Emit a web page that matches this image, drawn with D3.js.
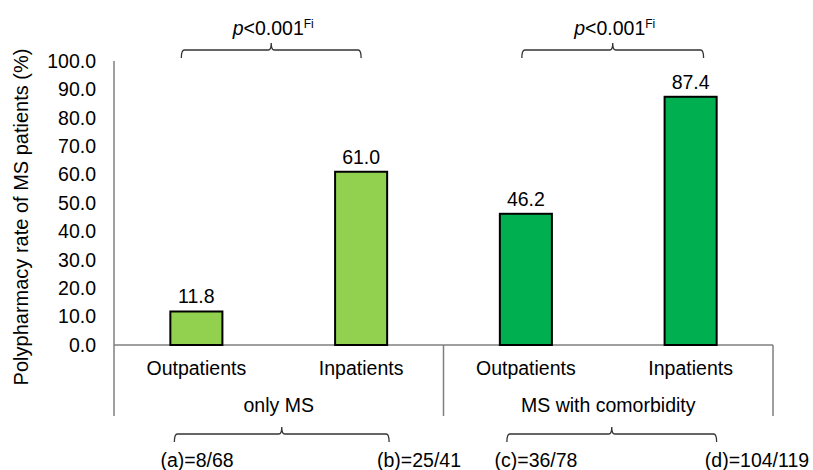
<!DOCTYPE html>
<html>
<head>
<meta charset="utf-8">
<script src="https://cdn.jsdelivr.net/npm/d3@7"></script>
<style>
  body { margin: 0; background: #fff; }
  text { font-family: "Liberation Sans", Arial, sans-serif; fill: #000; }
</style>
</head>
<body>
<div id="chart"></div>
<script>
// data
const categories = ["Outpatients", "Inpatients", "Outpatients", "Inpatients"];
const groups = ["only MS", "MS with comorbidity"];
const values = [11.8, 61.0, 46.2, 87.4];
const counts = ["(a)=8/68", "(b)=25/41", "(c)=36/78", "(d)=104/119"];
const yTicks = [0, 10, 20, 30, 40, 50, 60, 70, 80, 90, 100];
const pLabels = ["<0.001", "<0.001"];

const colors = ["#92D050", "#92D050", "#00B050", "#00B050"];
const fs = "19.5px";

let width = 813, height = 470;
let margin = {left: 114, right: 40, top: 61, bottom: 125};

let svg = d3.select("#chart").append("svg")
    .attr("width", width)
    .attr("height", height);

let x = d3.scaleBand()
    .domain(d3.range(categories.length))
    .range([margin.left, 773])
    .paddingInner(0.684)
    .paddingOuter(0.342);

let band = d3.scaleBand()
    .domain(d3.range(categories.length))
    .range([margin.left, 773]);

let y = d3.scaleLinear()
    .domain([0, 100])
    .range([345, 61]);

// y axis (labels only, no ticks)
let yAxis = d3.axisLeft(y)
    .tickValues(yTicks)
    .tickFormat(d3.format(".1f"))
    .tickSize(0)
    .tickPadding(18);

let yG = svg.append("g")
    .attr("transform", `translate(${margin.left},0)`)
    .call(yAxis);
yG.select(".domain").remove();
yG.selectAll("text")
    .style("font-size", fs)
    .style("font-family", "Liberation Sans, Arial, sans-serif");

const axisColor = "#7f7f7f";

// vertical axis line
svg.append("line")
    .attr("x1", margin.left).attr("x2", margin.left)
    .attr("y1", y(100)).attr("y2", 416)
    .attr("stroke", axisColor).attr("stroke-width", 1.5);

// baseline
svg.append("line")
    .attr("x1", margin.left).attr("x2", band.range()[1])
    .attr("y1", y(0)).attr("y2", y(0))
    .attr("stroke", axisColor).attr("stroke-width", 1.5);

// group separators
[2, 4].forEach(i => {
    let xx = i < 4 ? band(i) : band.range()[1];
    svg.append("line")
        .attr("x1", xx).attr("x2", xx)
        .attr("y1", y(0)).attr("y2", 416)
        .attr("stroke", axisColor).attr("stroke-width", 1.5);
});

// bars
svg.selectAll(".bar")
    .data(values)
    .enter().append("rect")
    .attr("class", "bar")
    .attr("x", (d, i) => x(i))
    .attr("y", d => y(d))
    .attr("width", x.bandwidth())
    .attr("height", d => y(0) - y(d))
    .attr("fill", (d, i) => colors[i])
    .attr("stroke", "#000")
    .attr("stroke-width", 2);

// value labels
svg.selectAll(".val")
    .data(values)
    .enter().append("text")
    .attr("x", (d, i) => x(i) + x.bandwidth() / 2)
    .attr("y", d => y(d) - 8)
    .attr("text-anchor", "middle")
    .style("font-size", fs)
    .text(d => d.toFixed(1));

// category labels
svg.selectAll(".cat")
    .data(categories)
    .enter().append("text")
    .attr("x", (d, i) => band(i) + band.bandwidth() / 2)
    .attr("y", 375)
    .attr("text-anchor", "middle")
    .style("font-size", fs)
    .text(d => d);

// group labels
svg.selectAll(".grp")
    .data(groups)
    .enter().append("text")
    .attr("x", (d, i) => band(i * 2) + band.bandwidth())
    .attr("y", 412)
    .attr("text-anchor", "middle")
    .style("font-size", fs)
    .text(d => d);

// y axis title
svg.append("text")
    .attr("transform", `translate(28,217) rotate(-90)`)
    .attr("text-anchor", "middle")
    .style("font-size", "20px")
    .text("Polypharmacy rate of MS patients (%)");

// brace helper: horizontal line with end ticks and a middle tick
function brace(x1, x2, xm, yLine, endDir, midDir) {
    let p = d3.path();
    p.moveTo(x1, yLine + endDir * 8);
    p.quadraticCurveTo(x1, yLine, x1 + 3, yLine);
    p.lineTo(xm - 3, yLine);
    p.quadraticCurveTo(xm, yLine, xm, yLine + midDir * 7);
    p.quadraticCurveTo(xm, yLine, xm + 3, yLine);
    p.lineTo(x2 - 3, yLine);
    p.quadraticCurveTo(x2, yLine, x2, yLine + endDir * 8);
    svg.append("path")
        .attr("d", p.toString())
        .attr("fill", "none")
        .attr("stroke", "#333")
        .attr("stroke-width", 1.3);
}

// top braces with p values
[[0, 1], [2, 3]].forEach((pair, k) => {
    let x1 = x(pair[0]) + 11;
    let x2 = x(pair[1]) + x.bandwidth() / 2;
    if (k === 1) { x1 = x(pair[0]) + 22; x2 = x(pair[1]) + 39; }
    let xm = (x1 + x2) / 2;
    brace(x1, x2, xm, 50, 1, -1);
    let t = svg.append("text")
        .attr("x", xm + 2)
        .attr("y", 35)
        .attr("text-anchor", "middle")
        .style("font-size", fs);
    t.append("tspan").style("font-style", "italic").text("p");
    t.append("tspan").text(pLabels[k]);
    t.append("tspan").attr("dy", -7).style("font-size", "12px").text("Fi");
});

// bottom braces
[[0, 1], [2, 3]].forEach((pair, k) => {
    let x1 = band(pair[0]) + band.bandwidth() / 2 - 22 + k * 3;
    let x2 = band(pair[1]) + band.bandwidth() / 2 + 28 - k * 2;
    let xm = (x1 + x2) / 2;
    brace(x1, x2, xm, 434, 1, -1);
});

// counts
const countX = [197, 419, 536, 757];
svg.selectAll(".cnt")
    .data(counts)
    .enter().append("text")
    .attr("x", (d, i) => countX[i])
    .attr("y", 467)
    .attr("text-anchor", "middle")
    .style("font-size", fs)
    .text(d => d);
</script>
</body>
</html>
